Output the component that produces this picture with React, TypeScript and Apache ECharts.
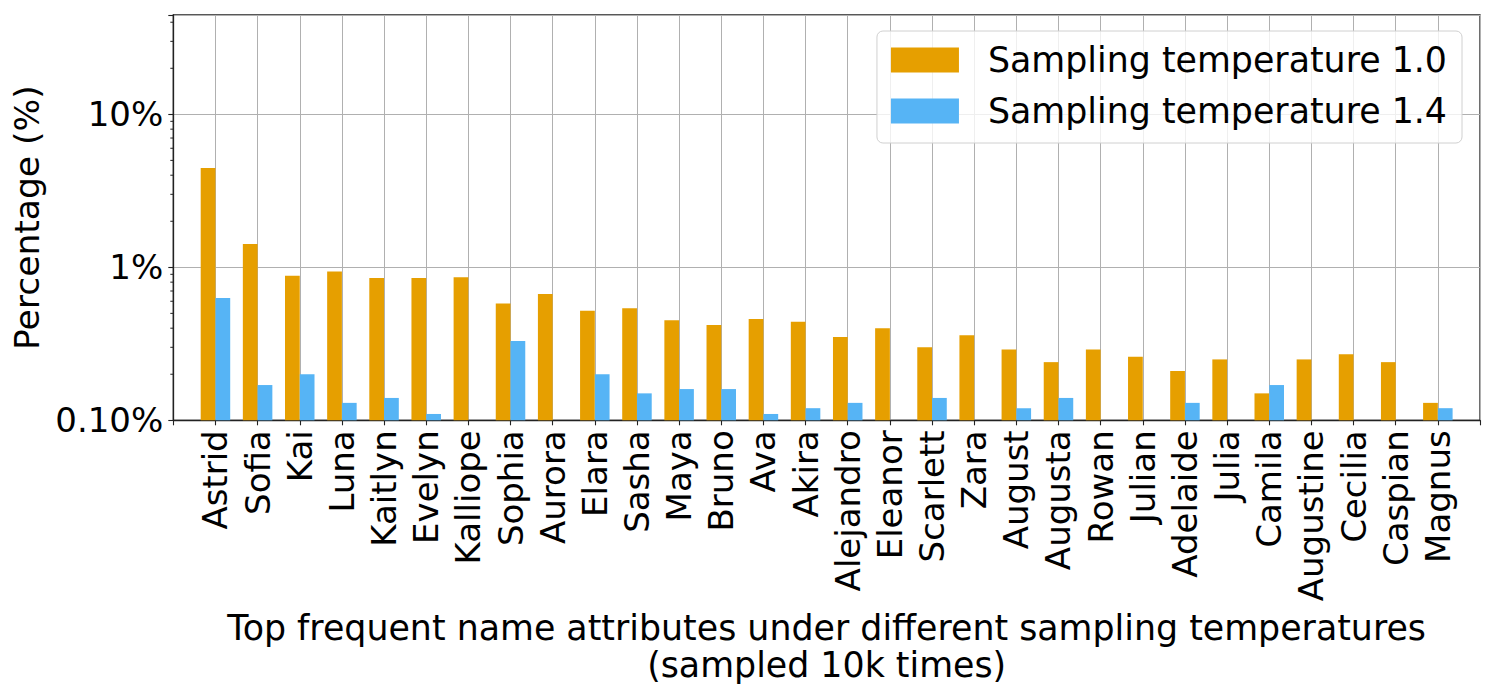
import React, { useEffect, useRef } from "react";
import * as echarts from "echarts";

const names = [
  "Astrid", "Sofia", "Kai", "Luna", "Kaitlyn", "Evelyn", "Kalliope", "Sophia", "Aurora", "Elara",
  "Sasha", "Maya", "Bruno", "Ava", "Akira", "Alejandro", "Eleanor", "Scarlett", "Zara", "August",
  "Augusta", "Rowan", "Julian", "Adelaide", "Julia", "Camila", "Augustine", "Cecilia", "Caspian", "Magnus",
];

// percentages (%)
const temp10 = [
  4.46, 1.42, 0.88, 0.94, 0.85, 0.85, 0.86, 0.58, 0.67, 0.52,
  0.54, 0.45, 0.42, 0.46, 0.44, 0.35, 0.40, 0.30, 0.36, 0.29,
  0.24, 0.29, 0.26, 0.21, 0.25, 0.15, 0.25, 0.27, 0.24, 0.13,
];
const temp14: (number | null)[] = [
  0.63, 0.17, 0.20, 0.13, 0.14, 0.11, null, 0.33, null, 0.20,
  0.15, 0.16, 0.16, 0.11, 0.12, 0.13, null, 0.14, null, 0.12,
  0.14, null, null, 0.13, null, 0.17, null, null, null, 0.12,
];

const yMinPct = 0.1;
const yMaxPct = 44.6;
const majorTicksPct = [0.1, 1, 10];
const majorTickLabels = ["0.10%", "1%", "10%"];
const minorTicksPct = [0.2, 0.3, 0.4, 0.5, 0.6, 0.7, 0.8, 0.9, 2, 3, 4, 5, 6, 7, 8, 9, 20, 30, 40];

const seriesNames = ["Sampling temperature 1.0", "Sampling temperature 1.4"];
const colors = ["#E69F00", "#56B4F5"];
const xTitle = "Top frequent name attributes under different sampling temperatures\n(sampled 10k times)";
const yTitle = "Percentage (%)";

const FONT = "DejaVu Sans";
// axis unit = 0.1 % so that the log-axis bars start at the bottom (value 1)
const UNIT = 10;

export default function App() {
  const ref = useRef<HTMLDivElement>(null);
  useEffect(() => {
    if (!ref.current) return;
    const chart = echarts.init(ref.current, undefined, { renderer: "svg" });
    const cats = ["", ...names, " "];
    const pad = (arr: (number | null)[]) => [null, ...arr.map((v) => (v == null ? null : v * UNIT)), null];
    const option: any = {
      animation: false,
      backgroundColor: "#fff",
      grid: {
        left: 173.3,
        right: 15,
        top: 15,
        bottom: 277.7,
        show: true,
        borderColor: "#222",
        borderWidth: 1.3,
        outerBoundsMode: "none",
        containLabel: false,
      },
      legend: {
        orient: "vertical",
        right: 33,
        top: 31,
        itemWidth: 68,
        itemHeight: 25,
        itemGap: 11,
        icon: "rect",
        padding: [9, 15, 12, 14],
        backgroundColor: "rgba(255,255,255,0.8)",
        borderColor: "#d0d0d0",
        borderWidth: 1,
        borderRadius: 6,
        data: seriesNames,
        textStyle: {
          fontSize: 34.8,
          fontFamily: FONT,
          color: "#000",
          lineHeight: 40,
          padding: [0, 0, 0, 24],
        },
      },
      xAxis: {
        type: "category",
        data: cats,
        boundaryGap: false,
        axisLine: { show: true, lineStyle: { color: "#222", width: 1.3 } },
        axisTick: { show: true, length: 5, lineStyle: { color: "#222", width: 1.1 } },
        axisLabel: {
          rotate: 90,
          interval: 0,
          fontSize: 34,
          fontFamily: FONT,
          color: "#000",
          margin: 10,
        },
        splitLine: { show: true, lineStyle: { color: "#b0b0b0", width: 1 } },
        name: xTitle,
        nameLocation: "middle",
        nameGap: 185,
        nameTextStyle: { fontSize: 34.8, fontFamily: FONT, color: "#000", lineHeight: 37 },
      },
      yAxis: {
        type: "log",
        logBase: 10,
        min: yMinPct * UNIT,
        max: yMaxPct * UNIT,
        axisLine: { show: true, lineStyle: { color: "#222", width: 1.3 } },
        axisTick: { show: true, length: 5, lineStyle: { color: "#222", width: 1.1 } },
        axisLabel: {
          fontSize: 34,
          fontFamily: FONT,
          color: "#000",
          margin: 10,
          formatter: (v: number) => {
            const pct = v / UNIT;
            for (let i = 0; i < majorTicksPct.length; i++) {
              if (Math.abs(pct - majorTicksPct[i]) < 1e-6 * majorTicksPct[i] + 1e-9) return majorTickLabels[i];
            }
            return "";
          },
        },
        splitLine: { show: true, lineStyle: { color: "#b0b0b0", width: 1 } },
        name: yTitle,
        nameLocation: "middle",
        nameGap: 126,
        nameTextStyle: { fontSize: 34.5, fontFamily: FONT, color: "#000" },
      },
      series: [
        {
          name: seriesNames[0],
          type: "bar",
          data: pad(temp10),
          barGap: "0%",
          barCategoryGap: "30%",
          itemStyle: { color: colors[0] },
        },
        {
          name: seriesNames[1],
          type: "bar",
          data: pad(temp14),
          barGap: "0%",
          barCategoryGap: "30%",
          itemStyle: { color: colors[1] },
        },
        {
          name: "minorTicks",
          type: "custom",
          silent: true,
          z: 10,
          data: minorTicksPct.map((v) => [0, v * UNIT]),
          encode: { x: 0, y: 1 },
          renderItem: (params: any, api: any) => {
            const pt = api.coord([api.value(0), api.value(1)]);
            const x0 = params.coordSys.x;
            return {
              type: "line",
              shape: { x1: x0 - 3, y1: pt[1], x2: x0, y2: pt[1] },
              style: { stroke: "#222", lineWidth: 1 },
            };
          },
        },
      ],
    };
    chart.setOption(option);
    return () => chart.dispose();
  }, []);
  return (
    <div
      ref={ref}
      style={{ position: "fixed", left: 0, top: 0, width: 1495, height: 698, background: "#fff" }}
    />
  );
}
